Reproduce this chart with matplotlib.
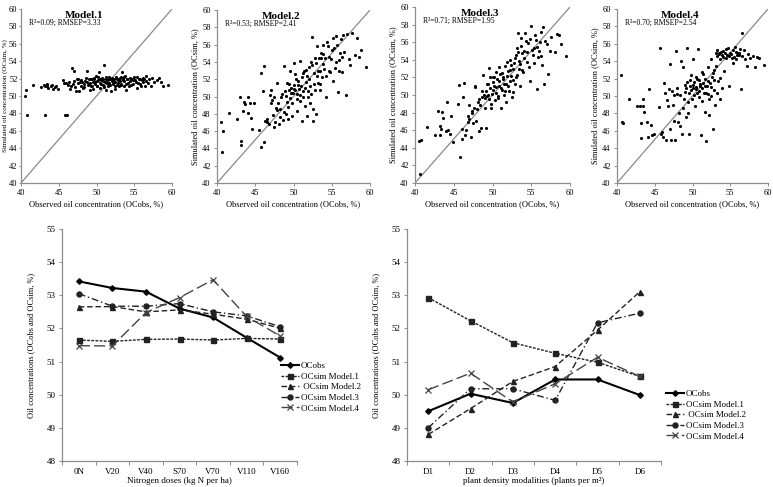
import numpy as np
import matplotlib
matplotlib.use("Agg")
import matplotlib.pyplot as plt

plt.rcParams['font.family'] = ['Liberation Serif', 'DejaVu Serif']

# observed oil concentration, shared by the four models
oc_obs = [40.5, 40.8, 40.7, 41.6, 42.6, 43.0, 43.2, 43.2, 43.4, 43.5,
          43.6, 44.0, 44.1, 44.3, 44.5, 44.6, 44.9, 45.5, 45.7, 45.8,
          46.1, 46.0, 46.2, 46.3, 46.5, 46.6, 46.8, 47.0, 47.0, 47.2,
          47.3, 47.4, 47.5, 47.7, 47.8, 47.9, 48.0, 48.2, 48.3, 48.5,
          48.6, 48.8, 48.9, 49.0, 49.1, 49.2, 49.3, 49.4, 49.5, 49.6,
          49.7, 49.8, 49.9, 50.0, 50.1, 50.2, 50.3, 50.4, 50.5, 50.6,
          50.7, 50.8, 50.9, 51.0, 51.1, 51.2, 51.3, 51.4, 51.5, 51.6,
          51.7, 51.8, 51.9, 52.0, 52.1, 52.2, 52.3, 52.4, 52.5, 52.6,
          52.7, 52.8, 52.9, 53.0, 53.1, 53.2, 53.3, 53.4, 53.5, 53.6,
          53.7, 53.8, 53.9, 54.0, 54.2, 54.4, 54.6, 54.8, 55.0, 55.2,
          55.4, 55.6, 55.8, 56.0, 56.2, 56.4, 56.5, 56.6, 56.8, 57.0,
          57.2, 57.4, 57.6, 58.0, 58.3, 58.6, 58.8, 59.5, 49.05, 49.25,
          49.45, 49.65, 49.85, 50.05, 50.25, 50.45, 50.65, 50.85, 51.05, 51.25,
          51.45, 51.65, 51.85, 52.05, 52.25, 52.45, 52.65, 52.85, 53.05, 53.25,
          53.45, 53.65, 53.85, 54.1, 54.3, 54.5, 54.7, 54.9, 55.1, 55.3,
          55.5, 55.7, 55.9, 56.1, 56.3, 48.4, 48.7, 47.6, 46.9, 48.1]

oc_sim_m1 = [50.0, 47.8, 50.7, 51.3, 51.0, 51.3, 47.8, 51.2, 51.4, 51.1,
             50.9, 51.1, 51.3, 50.8, 51.0, 51.2, 50.8, 51.8, 51.5, 47.8,
             47.8, 51.5, 51.3, 51.6, 50.8, 51.2, 53.2, 52.9, 51.7, 51.0,
             50.6, 51.9, 51.5, 50.6, 51.6, 51.2, 51.8, 50.9, 51.4, 51.7,
             52.1, 52.9, 51.3, 51.9, 50.7, 51.5, 51.2, 52.0, 51.6, 50.8,
             51.9, 51.4, 52.3, 51.7, 51.1, 52.2, 52.8, 51.5, 50.9, 51.8,
             52.1, 51.3, 51.9, 53.6, 51.6, 52.0, 50.7, 51.8, 51.2, 52.2,
             51.5, 51.9, 50.6, 51.7, 52.1, 51.4, 51.9, 50.8, 51.6, 52.2,
             51.3, 51.8, 52.0, 51.1, 51.7, 52.2, 51.4, 52.8, 51.9, 51.2,
             51.7, 52.3, 50.7, 51.9, 51.5, 52.1, 51.3, 51.8, 52.2, 51.6,
             50.9, 52.0, 51.4, 51.8, 52.1, 51.2, 51.7, 52.3, 51.5, 51.9,
             51.1, 52.1, 51.6, 51.8, 52.1, 51.6, 51.2, 51.3, 51.4, 51.9,
             51.1, 52.1, 51.6, 51.2, 51.8, 52.0, 51.4, 51.7, 51.0, 52.2,
             51.5, 51.9, 51.3, 52.0, 51.6, 51.2, 51.9, 51.5, 52.1, 51.3,
             51.8, 52.2, 51.4, 51.9, 51.1, 51.7, 52.0, 51.4, 51.8, 52.2,
             51.5, 51.9, 51.2, 51.6, 52.0, 51.0, 51.6, 52.0, 51.4, 51.6]

oc_sim_m2 = [47.0, 46.0, 43.6, 48.1, 47.4, 50.0, 44.8, 44.4, 48.3, 49.4,
             49.1, 48.1, 50.0, 49.3, 47.5, 46.2, 49.2, 46.1, 52.7, 44.2,
             44.7, 50.6, 53.5, 47.2, 47.0, 47.4, 46.8, 49.3, 50.8, 49.6,
             47.9, 50.0, 46.5, 48.7, 51.6, 48.4, 49.2, 47.6, 48.5, 50.3,
             47.3, 53.5, 50.6, 48.0, 49.4, 51.6, 47.4, 50.8, 49.8, 53.0,
             51.0, 49.2, 50.4, 51.3, 53.9, 50.8, 52.0, 50.3, 48.3, 51.8,
             50.9, 54.1, 49.5, 51.2, 47.2, 52.7, 50.6, 53.0, 48.9, 51.7,
             47.8, 52.4, 50.0, 53.4, 51.2, 49.3, 54.0, 56.9, 48.6, 47.2,
             52.7, 50.8, 48.0, 53.9, 55.8, 51.6, 54.5, 52.9, 50.8, 54.4,
             52.3, 56.0, 54.9, 53.2, 50.0, 56.3, 54.6, 52.8, 55.4, 56.8,
             53.3, 57.0, 50.5, 54.2, 56.6, 52.8, 57.1, 55.1, 50.2, 57.2,
             54.3, 53.6, 57.3, 54.8, 56.8, 54.6, 55.4, 53.4, 50.1, 48.8,
             51.5, 50.4, 47.8, 50.9, 52.6, 49.7, 51.3, 50.2, 52.2, 49.9,
             51.0, 53.1, 50.6, 52.0, 50.3, 53.6, 51.5, 54.4, 52.4, 53.0,
             51.4, 55.0, 53.7, 54.4, 52.4, 55.8, 53.0, 54.3, 51.8, 55.6,
             54.0, 55.9, 53.0, 55.0, 54.6, 49.9, 48.2, 47.1, 50.2, 46.8]

oc_sim_m3 = [44.8, 44.9, 41.0, 46.4, 45.5, 48.2, 45.4, 46.5, 46.1, 48.1,
             47.4, 45.9, 49.2, 46.0, 45.6, 47.6, 44.7, 49.0, 51.1, 42.9,
             45.0, 46.1, 49.8, 51.4, 45.4, 46.0, 46.9, 47.3, 48.9, 45.2,
             47.9, 48.2, 46.8, 50.9, 51.0, 47.0, 48.4, 49.5, 45.9, 46.3,
             49.8, 52.3, 50.0, 48.5, 46.3, 50.4, 49.9, 51.3, 49.5, 53.1,
             50.8, 48.5, 50.1, 52.0, 51.5, 51.0, 49.4, 52.6, 50.2, 51.8,
             49.7, 53.2, 51.0, 52.4, 48.5, 50.6, 52.1, 51.8, 50.0, 53.3,
             49.2, 51.2, 53.7, 52.7, 50.5, 51.6, 54.0, 52.2, 49.8, 52.9,
             50.3, 53.6, 51.3, 54.6, 55.3, 52.3, 57.1, 53.9, 51.0, 53.5,
             56.5, 54.8, 52.6, 55.0, 57.0, 53.8, 55.9, 51.6, 57.8, 54.5,
             55.3, 56.3, 50.7, 55.0, 57.2, 53.4, 57.7, 51.2, 56.1, 55.8,
             52.4, 55.0, 56.6, 54.9, 56.9, 56.8, 55.8, 54.4, 49.7, 51.2,
             50.0, 52.0, 49.0, 50.6, 52.1, 50.9, 49.9, 51.6, 50.8, 52.5,
             51.3, 50.4, 52.2, 51.0, 52.8, 53.4, 51.7, 54.2, 52.0, 54.9,
             53.0, 55.6, 52.8, 54.2, 56.1, 54.9, 53.2, 56.4, 55.1, 53.6,
             56.8, 55.4, 54.3, 56.0, 54.4, 48.9, 50.5, 48.5, 47.6, 49.2]

oc_sim_m4 = [52.4, 46.9, 47.0, 49.7, 48.9, 48.9, 45.2, 46.9, 49.6, 48.9,
             48.2, 47.0, 45.3, 50.8, 46.7, 45.5, 45.6, 48.7, 55.5, 45.6,
             45.3, 45.9, 51.5, 50.3, 45.0, 49.5, 48.8, 53.7, 46.2, 45.0,
             50.6, 49.0, 47.1, 44.9, 55.2, 50.2, 50.9, 48.0, 46.5, 54.0,
             45.6, 53.3, 49.7, 51.3, 47.6, 50.9, 55.5, 48.0, 50.3, 45.6,
             51.2, 52.4, 49.6, 50.9, 54.3, 51.6, 48.8, 51.0, 52.2, 50.4,
             55.4, 51.8, 49.9, 51.1, 45.5, 52.8, 49.4, 51.5, 50.4, 52.0,
             48.2, 44.8, 51.1, 50.2, 53.3, 47.8, 51.5, 54.2, 50.0, 52.2,
             46.2, 53.0, 51.8, 49.0, 53.5, 50.4, 55.3, 51.7, 54.8, 52.1,
             49.7, 55.1, 50.9, 54.5, 52.9, 55.4, 54.7, 51.2, 55.0, 54.4,
             53.8, 55.6, 54.3, 55.0, 54.7, 50.8, 57.2, 54.6, 55.3, 54.2,
             53.4, 54.8, 54.4, 54.6, 53.3, 54.5, 54.4, 53.6, 50.5, 51.6,
             49.3, 51.8, 50.7, 51.3, 50.1, 50.8, 51.9, 50.6, 51.4, 50.9,
             52.5, 51.2, 50.3, 51.7, 49.6, 51.0, 52.6, 50.7, 54.9, 54.6,
             55.0, 54.3, 54.7, 55.2, 54.9, 54.4, 55.5, 54.6, 54.8, 55.3,
             54.5, 55.1, 54.7, 54.9, 55.4, 50.1, 48.6, 50.1, 50.8, 47.0]

model_titles = ['Model.1', 'Model.2', 'Model.3', 'Model.4']
model_stats = ['R\u00b2=0.09; RMSEP=3.33', 'R\u00b2=0.53; RMSEP=2.41',
               'R\u00b2=0.71; RMSEP=1.95', 'R\u00b2=0.70; RMSEP=2.54']

# nitrogen doses panel
n_doses = ['0N', 'V20', 'V40', 'S70', 'V70', 'V110', 'V160']
n_obs = [53.42, 53.22, 53.11, 52.60, 52.33, 51.72, 51.12]
n_m1 = [51.65, 51.61, 51.67, 51.68, 51.65, 51.70, 51.68]
n_m2 = [52.65, 52.66, 52.50, 52.56, 52.43, 52.28, 52.00]
n_m3 = [53.05, 52.67, 52.67, 52.75, 52.50, 52.38, 52.05]
n_m4 = [51.48, 51.47, 52.48, 52.93, 53.47, 52.36, 51.77]

# plant density panel
densities = ['D1', 'D2', 'D3', 'D4', 'D5', 'D6']
d_obs = [49.50, 50.03, 49.75, 50.46, 50.46, 49.99]
d_m1 = [52.93, 52.23, 51.57, 51.25, 50.98, 50.55]
d_m2 = [48.80, 49.58, 50.40, 50.85, 51.95, 53.11]
d_m3 = [49.00, 50.18, 50.18, 49.83, 52.17, 52.46]
d_m4 = [50.15, 50.65, 49.78, 50.33, 51.13, 50.55]

series_labels = ['OCobs', 'OCsim Model.1', ' OCsim Model.2', 'OCsim Model.3', 'OCsim Model.4']

W, H = 773, 487
fig = plt.figure(figsize=(W / 100, H / 100), dpi=100)
spine_c = '#8c8c8c'


def px_axes(x0, y0, x1, y1):
    return fig.add_axes([x0 / W, 1 - y1 / H, (x1 - x0) / W, (y1 - y0) / H])


def style_axes(ax, fs):
    for s in ['top', 'right']:
        ax.spines[s].set_visible(False)
    for s in ['left', 'bottom']:
        ax.spines[s].set_color(spine_c)
        ax.spines[s].set_linewidth(0.9)
    ax.tick_params(labelsize=fs, length=2.5, width=0.7, color=spine_c, pad=2)


# %% top scatter panels
top_boxes = [(21, 9, 172, 183), (217, 10, 370, 183), (415, 7, 570, 183), (617, 9, 768, 183)]
sims = [oc_sim_m1, oc_sim_m2, oc_sim_m3, oc_sim_m4]
for k, (box, sim, title, stat) in enumerate(zip(top_boxes, sims, model_titles, model_stats)):
    ax = px_axes(*box)
    ax.plot([40, 60], [40, 60], color='#8a8a8a', lw=0.9, zorder=1)
    ax.scatter(oc_obs, sim, s=5, color='black', linewidths=0, zorder=2)
    ax.set_xlim(40, 60)
    ax.set_ylim(40, 60)
    ax.set_xticks(np.arange(40, 61, 5))
    ax.set_yticks(np.arange(40, 61, 2))
    style_axes(ax, 6)
    if k == 0:
        # first panel sits close to the figure edge
        ax.tick_params(axis='y', pad=1, length=1.5)
        ax.set_ylabel('Simulated oil concentration (OCsim, %)', fontsize=5, labelpad=0.5)
    else:
        ax.set_ylabel('Simulated oil concentration (OCsim, %)', fontsize=6, labelpad=2)
    ax.set_xlabel('Observed oil concentration (OCobs, %)', fontsize=6, labelpad=2)
    ax.text(48.4, 59.3, title, fontsize=8, fontweight='bold', ha='center', va='center')
    ax.text(41.0, 58.4, stat, fontsize=5.5, ha='left', va='center')

# %% bottom line panels
styles = [dict(ls='-', lw=1.5, marker='D', ms=2.8, color='black'),
          dict(ls=(0, (2, 1)), lw=1.0, marker='s', ms=3.6, color='#222222'),
          dict(ls=(0, (4, 2)), lw=1.0, marker='^', ms=3.6, color='#222222'),
          dict(ls=(0, (5, 2, 1, 2)), lw=1.0, marker='o', ms=3.6, color='#222222'),
          dict(ls=(0, (8, 3)), lw=1.0, marker='x', ms=3.8, mew=0.9, color='#444444')]


def line_panel(box, cats, series, xlabel, legend_xy):
    ax = px_axes(*box)
    x = np.arange(len(cats)) + 0.5
    handles = []
    for vals, st, lab in zip(series, styles, series_labels):
        h, = ax.plot(x, vals, label=lab, **st)
        handles.append(h)
    ax.set_xlim(0, len(cats))
    ax.set_ylim(48, 55)
    ax.set_xticks(x)
    ax.set_xticklabels(cats)
    ax.set_xticks(np.arange(len(cats) + 1), minor=True)
    ax.set_yticks(np.arange(48, 56, 1))
    style_axes(ax, 6.5)
    ax.tick_params(axis='x', which='major', length=0, pad=5)
    ax.tick_params(axis='x', which='minor', length=3, width=0.7, color=spine_c)
    ax.set_xlabel(xlabel, fontsize=6.5, labelpad=1)
    ax.set_ylabel('Oil concentrations (OCobs and OCsim, %)', fontsize=6, labelpad=8)
    fig.legend(handles=handles, loc='upper left', bbox_to_anchor=(legend_xy[0] / W, 1 - legend_xy[1] / H),
               frameon=False, fontsize=6.5, handlelength=2.0, handletextpad=0.2,
               labelspacing=0.25, borderaxespad=0, borderpad=0)
    return ax


line_panel((62, 229, 297, 461), n_doses, [n_obs, n_m1, n_m2, n_m3, n_m4],
           'Nitrogen doses (kg N per ha)', (281, 362))
line_panel((407, 229, 661, 461), densities, [d_obs, d_m1, d_m2, d_m3, d_m4],
           'plant density modalities (plants per m\u00b2)', (666, 390))

fig.savefig('out.png', dpi=100)
